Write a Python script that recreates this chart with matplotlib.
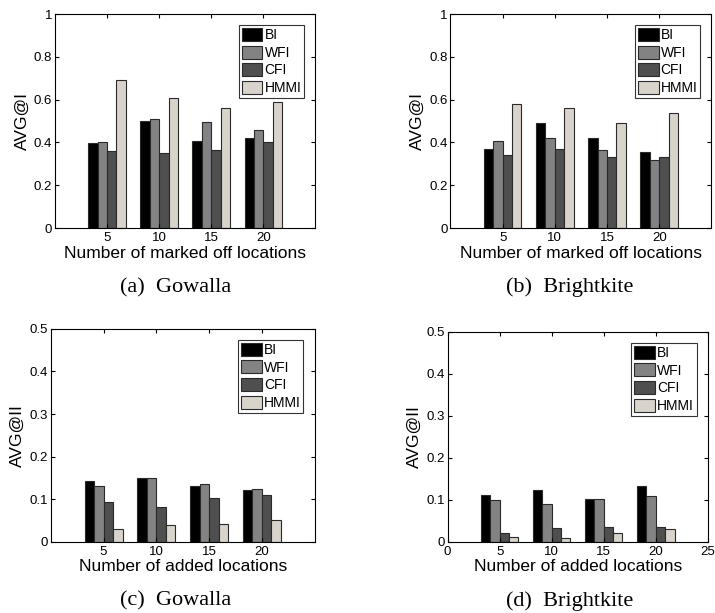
import numpy as np
import matplotlib
matplotlib.use('Agg')
import matplotlib.pyplot as plt

plt.rcParams['font.family'] = ['Liberation Sans', 'DejaVu Sans']

# datos
grupos = [5, 10, 15, 20]
metodos = ['BI', 'WFI', 'CFI', 'HMMI']

gowalla_I = {
    'BI':   [0.397, 0.50, 0.405, 0.42],
    'WFI':  [0.40, 0.51, 0.495, 0.46],
    'CFI':  [0.36, 0.35, 0.365, 0.40],
    'HMMI': [0.69, 0.61, 0.56, 0.59],
}
bright_I = {
    'BI':   [0.37, 0.49, 0.42, 0.355],
    'WFI':  [0.405, 0.42, 0.365, 0.32],
    'CFI':  [0.34, 0.37, 0.33, 0.33],
    'HMMI': [0.58, 0.56, 0.49, 0.54],
}
gowalla_II = {
    'BI':   [0.144, 0.150, 0.131, 0.121],
    'WFI':  [0.131, 0.149, 0.135, 0.124],
    'CFI':  [0.093, 0.083, 0.102, 0.110],
    'HMMI': [0.030, 0.040, 0.041, 0.052],
}
bright_II = {
    'BI':   [0.111, 0.123, 0.103, 0.132],
    'WFI':  [0.099, 0.090, 0.101, 0.110],
    'CFI':  [0.020, 0.032, 0.035, 0.036],
    'HMMI': [0.012, 0.010, 0.021, 0.030],
}

colores = ['#000000', '#838383', '#4f4f4f', '#d8d4cc']

fig = plt.figure(figsize=(7.15, 6.13), dpi=100)

paneles = [
    # datos, posicion, ylabel, xlabel, ymax, yticks, xticks, caption, caption_pos
    (gowalla_I, [0.077, 0.628, 0.364, 0.349], 'AVG@I', 'Number of marked off locations',
     1.0, np.arange(0, 1.01, 0.2), grupos, '(a)  Gowalla', (0.246, 0.531)),
    (bright_I, [0.630, 0.628, 0.365, 0.349], 'AVG@I', 'Number of marked off locations',
     1.0, np.arange(0, 1.01, 0.2), grupos, '(b)  Brightkite', (0.797, 0.531)),
    (gowalla_II, [0.071, 0.116, 0.369, 0.3475], 'AVG@II', 'Number of added locations',
     0.5, np.arange(0, 0.51, 0.1), grupos, '(c)  Gowalla', (0.246, 0.0196)),
    (bright_II, [0.626, 0.116, 0.364, 0.3426], 'AVG@II', 'Number of added locations',
     0.5, np.arange(0, 0.51, 0.1), [0, 5, 10, 15, 20, 25], '(d)  Brightkite', (0.797, 0.0196)),
]

ancho = 0.9
x = np.array(grupos, dtype=float)

for datos, pos, ylab, xlab, ymax, yt, xt, cap, cpos in paneles:
    ax = fig.add_axes(pos)
    for k, m in enumerate(metodos):
        ax.bar(x + (k - 1.5) * ancho, datos[m], width=ancho, color=colores[k],
               edgecolor='#2a2a2a', linewidth=0.8, label=m)
    ax.set_xlim(0, 25)
    ax.set_ylim(0, ymax)
    ax.set_xticks(xt)
    ax.set_yticks(yt)
    ax.set_yticklabels(['0' if v == 0 else ('1' if v == 1 else '%g' % round(v, 1)) for v in yt])
    ax.tick_params(direction='in', top=True, right=True, labelsize=9.5, length=3, pad=2)
    ax.tick_params(axis='x', pad=3)
    ax.set_ylabel(ylab, fontsize=12.5, labelpad=3)
    ax.set_xlabel(xlab, fontsize=12.5, labelpad=1)
    for s in ax.spines.values():
        s.set_linewidth(0.8)
    ley = ax.legend(loc='upper right', fontsize=10, frameon=True, fancybox=False,
                    edgecolor='black', handlelength=1.5, handleheight=1.05,
                    handletextpad=0.15, labelspacing=0.25, borderpad=0.2,
                    borderaxespad=0.8)
    ley.get_frame().set_linewidth(0.8)
    fig.text(cpos[0], cpos[1], cap, ha='center', va='center', fontsize=16,
             family=['Liberation Serif', 'DejaVu Serif'])

fig.savefig('out.png', dpi=100)
